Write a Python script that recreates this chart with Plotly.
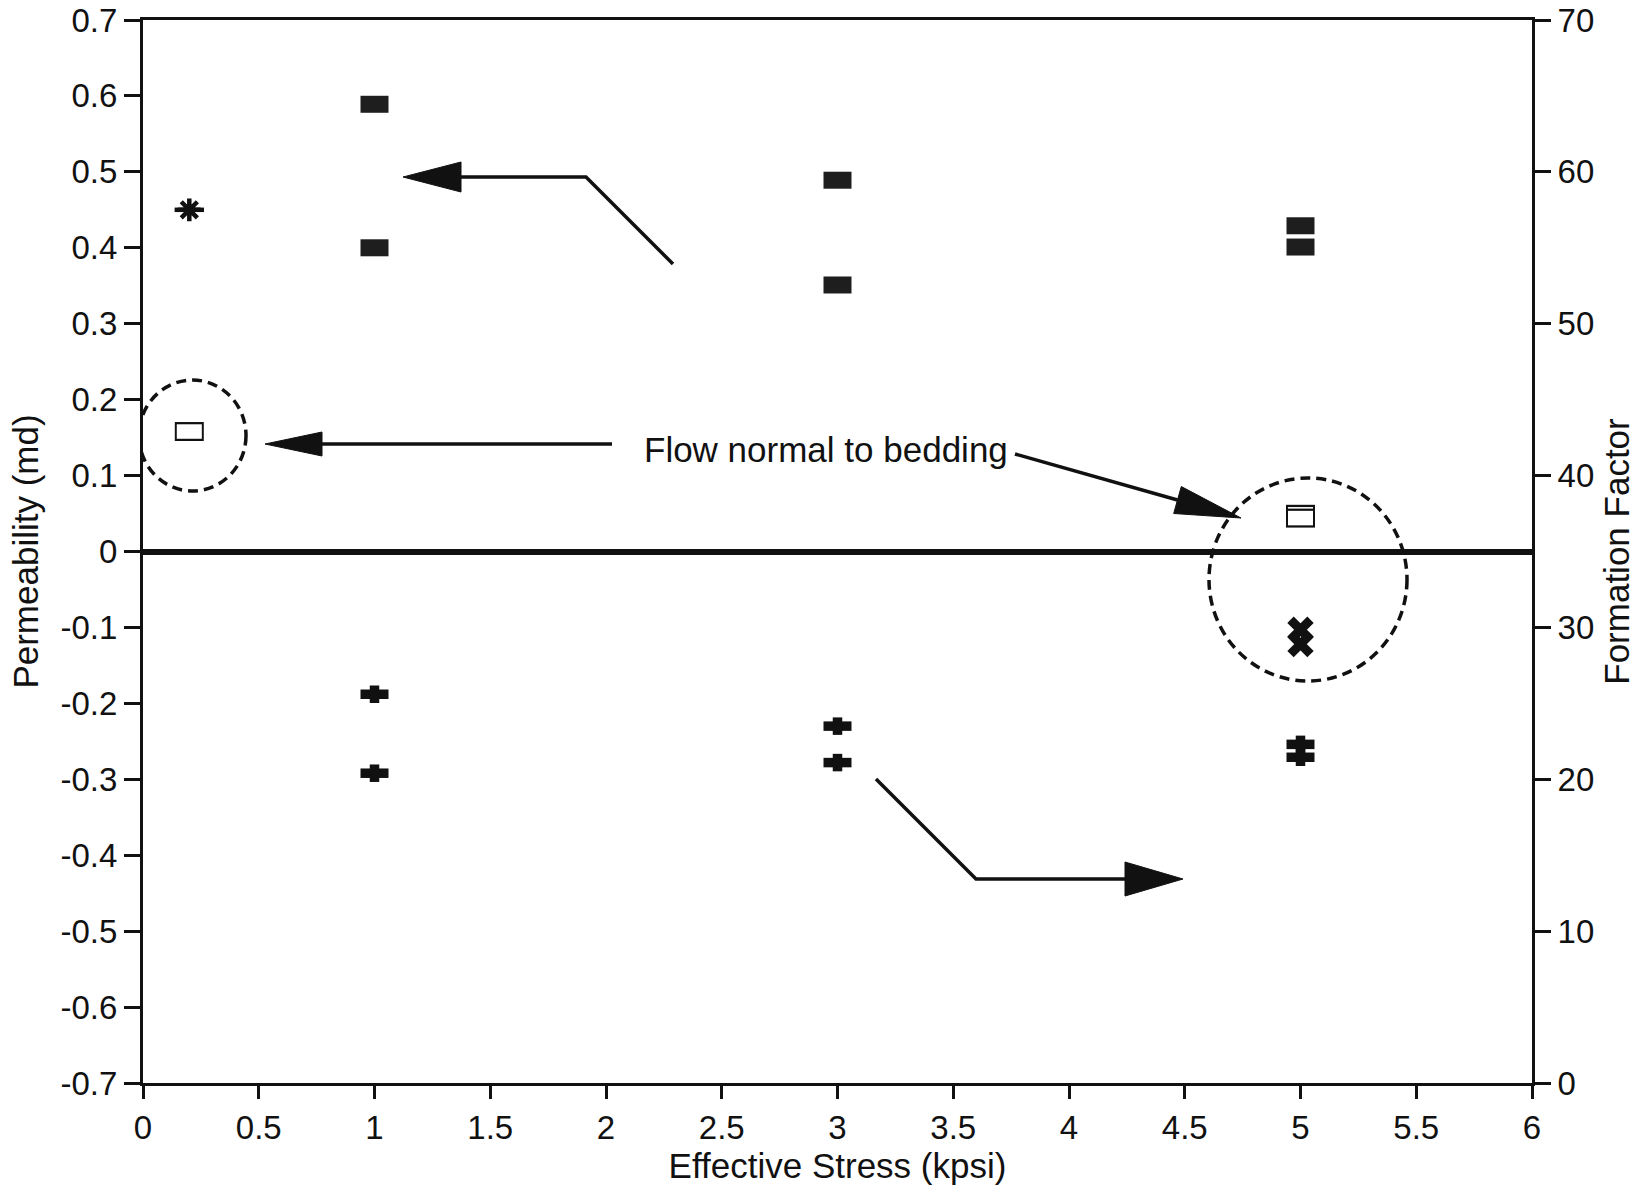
import plotly.graph_objects as go

# ---------------- data ----------------
# Permeability (md) – flow parallel to bedding (filled rectangles)
perm_x = [1, 1, 3, 3, 5, 5]
perm_y = [0.589, 0.400, 0.489, 0.351, 0.429, 0.401]
# Permeability – asterisk point
star_x = [0.2]
star_y = [0.450]
# Permeability – flow normal to bedding (open rectangles)
normal_x = [0.2, 5, 5]
normal_y = [0.158, 0.049, 0.044]
# Formation factor – plus markers
ff_plus_x = [1, 1, 3, 3, 5, 5]
ff_plus_y = [25.6, 20.4, 23.5, 21.1, 22.3, 21.45]
# Formation factor – flow normal to bedding (x markers)
ff_x_x = [5, 5]
ff_x_y = [29.85, 28.9]

x_ticks = [0, 0.5, 1, 1.5, 2, 2.5, 3, 3.5, 4, 4.5, 5, 5.5, 6]
x_ticklabels = ["0", "0.5", "1", "1.5", "2", "2.5", "3", "3.5", "4", "4.5", "5", "5.5", "6"]
perm_ticks = [0.7, 0.6, 0.5, 0.4, 0.3, 0.2, 0.1, 0, -0.1, -0.2, -0.3, -0.4, -0.5, -0.6, -0.7]
perm_ticklabels = ["0.7", "0.6", "0.5", "0.4", "0.3", "0.2", "0.1", "0",
                   "-0.1", "-0.2", "-0.3", "-0.4", "-0.5", "-0.6", "-0.7"]
ff_ticks = [0, 10, 20, 30, 40, 50, 60, 70]
ff_ticklabels = ["0", "10", "20", "30", "40", "50", "60", "70"]

# ---------------- geometry / style ----------------
W, H = 1649, 1189
ML, MR, MT, MB = 143, 117, 20, 106
PW = W - ML - MR
PH = H - MT - MB
FONT = "Liberation Sans, Arial, Helvetica, sans-serif"
INK = "#111111"
TITLE_SIZE = 35
TICK_SIZE = 33


def to_data(px, py):
    """page pixel -> data coords (x, permeability) for annotation drawing"""
    x = (px - ML) / PW * 6.0
    y = 0.7 - (py - MT) / PH * 1.4
    return x, y


def path_from_pixels(pts, close=False):
    parts = []
    for i, (px, py) in enumerate(pts):
        x, y = to_data(px, py)
        parts.append(("M" if i == 0 else "L") + f"{x:.5f},{y:.5f}")
    return " ".join(parts) + (" Z" if close else "")


def arrow_head(tip, tail, length, half):
    tx, ty = tip
    dx, dy = tip[0] - tail[0], tip[1] - tail[1]
    n = (dx * dx + dy * dy) ** 0.5
    ux, uy = dx / n, dy / n
    bx, by = tx - ux * length, ty - uy * length
    nx, ny = -uy, ux
    return [(tx, ty), (bx + nx * half, by + ny * half), (bx - nx * half, by - ny * half)], (bx, by)


fig = go.Figure()

# filled rectangles (permeability)
fig.add_trace(go.Scatter(
    x=perm_x, y=perm_y, mode="markers", name="Permeability",
    marker=dict(symbol="line-ew-open", size=20, color="#1e1e1e",
                line=dict(width=17, color="#1e1e1e")),
    showlegend=False))

# asterisk
fig.add_trace(go.Scatter(
    x=star_x, y=star_y, mode="markers", name="Permeability *",
    marker=dict(symbol="line-ew-open", size=21, color=INK, line=dict(width=4.5, color=INK)),
    showlegend=False))
fig.add_trace(go.Scatter(
    x=star_x, y=star_y, mode="markers", name="Permeability *",
    marker=dict(symbol="asterisk-open", size=19, color=INK, line=dict(width=4.5, color=INK)),
    showlegend=False))

# open rectangles (flow normal to bedding) - drawn point by point so outlines overlap
for xv, yv in zip(normal_x, normal_y):
    fig.add_trace(go.Scatter(
        x=[xv], y=[yv], mode="markers", name="Normal to bedding",
        marker=dict(symbol="line-ew-open", size=20.7, color=INK, line=dict(width=19, color=INK)),
        showlegend=False))
    fig.add_trace(go.Scatter(
        x=[xv], y=[yv], mode="markers", name="Normal to bedding",
        marker=dict(symbol="line-ew-open", size=17.9, color="white", line=dict(width=14.5, color="white")),
        showlegend=False))

# plus markers (formation factor)
fig.add_trace(go.Scatter(
    x=ff_plus_x, y=ff_plus_y, yaxis="y2", mode="markers", name="Formation factor",
    marker=dict(symbol="line-ew-open", size=20, color=INK, line=dict(width=9.5, color=INK)),
    showlegend=False))
fig.add_trace(go.Scatter(
    x=ff_plus_x, y=ff_plus_y, yaxis="y2", mode="markers", name="Formation factor",
    marker=dict(symbol="line-ns-open", size=12.5, color=INK, line=dict(width=9.5, color=INK)),
    showlegend=False))

# x markers (formation factor, normal to bedding)
fig.add_trace(go.Scatter(
    x=ff_x_x, y=ff_x_y, yaxis="y2", mode="markers", name="Formation factor (normal)",
    marker=dict(symbol="x-thin-open", size=20, color=INK, line=dict(width=9, color=INK)),
    showlegend=False))

# ---------------- annotation drawing (arrows, circles, text) ----------------
shapes = []
LW = 3.5


def add_polyline(pts):
    shapes.append(dict(type="path", xref="x", yref="y", path=path_from_pixels(pts),
                       line=dict(color=INK, width=LW)))


def add_head(pts):
    shapes.append(dict(type="path", xref="x", yref="y", path=path_from_pixels(pts, close=True),
                       line=dict(color=INK, width=1), fillcolor=INK))


# upper arrow (points to permeability axis)
head, base = arrow_head((403, 177), (586, 177), 58, 15)
add_polyline([(673, 264), (586, 177), base])
add_head(head)

# lower arrow (points to formation-factor axis)
head, base = arrow_head((1183, 879), (976, 879), 58, 17)
add_polyline([(876, 779), (976, 879), base])
add_head(head)

# "Flow normal to bedding" arrows
head, base = arrow_head((265, 444), (612, 444), 57, 12)
add_polyline([(612, 444), base])
add_head(head)

head, base = arrow_head((1241, 518), (1015, 454), 66, 14)
add_polyline([(1015, 454), base])
add_head(head)

# dashed circles
for (px0, py0, px1, py1) in [(139, 380, 246, 491), (1209, 478, 1407, 681)]:
    x0, y0 = to_data(px0, py1)
    x1, y1 = to_data(px1, py0)
    shapes.append(dict(type="circle", xref="x", yref="y", x0=x0, x1=x1, y0=y0, y1=y1,
                       line=dict(color=INK, width=3.5, dash="10px,6px")))

tx, ty = to_data(826, 449)
annotations = [dict(x=tx, y=ty, xref="x", yref="y", text="Flow normal to bedding",
                    showarrow=False, font=dict(size=TITLE_SIZE, color=INK, family=FONT))]

axis_common = dict(showgrid=False, showline=True, linecolor=INK,
                   linewidth=3, ticks="outside", tickcolor=INK, tickwidth=2.5,
                   tickfont=dict(size=TICK_SIZE, color=INK, family=FONT))

fig.update_layout(
    width=W, height=H,
    margin=dict(l=ML, r=MR, t=MT, b=MB, autoexpand=False),
    paper_bgcolor="white", plot_bgcolor="white",
    font=dict(family=FONT, color=INK),
    showlegend=False,
    xaxis=dict(range=[0, 6], tickmode="array", tickvals=x_ticks, ticktext=x_ticklabels,
               ticklen=13, mirror=True, zeroline=False,
               title=dict(text="Effective Stress (kpsi)",
                          font=dict(size=TITLE_SIZE, color=INK, family=FONT), standoff=6),
               **axis_common),
    yaxis=dict(range=[-0.7, 0.7], tickmode="array", tickvals=perm_ticks, ticktext=perm_ticklabels,
               ticklen=16, zeroline=True, zerolinecolor=INK, zerolinewidth=6,
               title=dict(text="Permeability (md)",
                          font=dict(size=TITLE_SIZE, color=INK, family=FONT), standoff=12),
               **axis_common),
    yaxis2=dict(range=[0, 70], overlaying="y", side="right", tickmode="array",
                tickvals=ff_ticks, ticktext=ff_ticklabels, ticklen=16, zeroline=False,
                title=dict(text="Formation Factor",
                           font=dict(size=TITLE_SIZE, color=INK, family=FONT), standoff=12),
                **axis_common),
    shapes=shapes,
    annotations=annotations,
)

fig.write_html("out.html")
